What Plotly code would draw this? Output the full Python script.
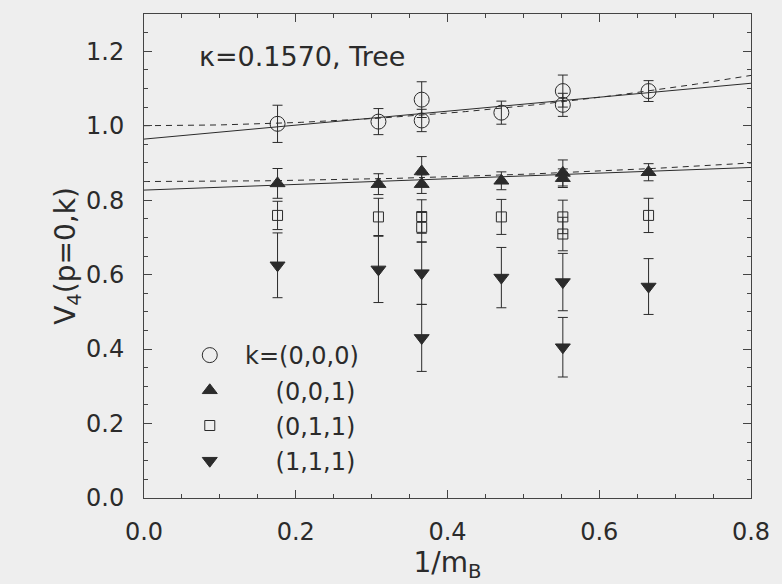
import numpy as np
import plotly.graph_objects as go

# ---- data ----
x_pts = [0.176, 0.309, 0.366, 0.366, 0.471, 0.552, 0.552, 0.665]

k000_y = [1.005, 1.011, 1.070, 1.014, 1.035, 1.093, 1.056, 1.093]
k000_err = [0.050, 0.035, 0.048, 0.030, 0.031, 0.043, 0.031, 0.028]

k001_y = [0.845, 0.843, 0.877, 0.843, 0.852, 0.873, 0.859, 0.875]
k001_err = [0.040, 0.028, 0.040, 0.025, 0.024, 0.035, 0.025, 0.023]

k011_y = [0.759, 0.755, 0.756, 0.727, 0.755, 0.755, 0.709, 0.759]
k011_err = [0.038, 0.050, 0.045, 0.040, 0.047, 0.045, 0.045, 0.046]

k111_y = [0.625, 0.614, 0.604, 0.430, 0.592, 0.580, 0.405, 0.568]
k111_err = [0.087, 0.089, 0.084, 0.090, 0.081, 0.077, 0.080, 0.075]

# fit coefficients: linear a + b x (solid), quadratic a + c x^2 (dashed)
lin_fit_000 = [0.964, 0.1875]
quad_fit_000 = [1.000, 0.211]
lin_fit_001 = [0.827, 0.076]
quad_fit_001 = [0.850, 0.078]

NB = "\u00a0"
legend_labels = [NB * 2 + "k=(0,0,0)", NB * 6 + "(0,0,1)", NB * 6 + "(0,1,1)", NB * 6 + "(1,1,1)"]

FONT = "DejaVu Sans"
INK = "#2b2b2b"
BG = "#eeeeee"

fig = go.Figure()

xf = np.linspace(0, 0.8, 101)
for lf, qf in [(lin_fit_000, quad_fit_000), (lin_fit_001, quad_fit_001)]:
    fig.add_trace(go.Scatter(x=xf, y=lf[0] + lf[1] * xf, mode="lines",
                             line=dict(color=INK, width=1), showlegend=False, hoverinfo="skip"))
    fig.add_trace(go.Scatter(x=xf, y=qf[0] + qf[1] * xf ** 2, mode="lines",
                             line=dict(color=INK, width=1, dash="6px,5px"), showlegend=False, hoverinfo="skip"))

series = [
    (k000_y, k000_err, "circle-open", 15, legend_labels[0]),
    (k001_y, k001_err, "triangle-up", 13, legend_labels[1]),
    (k011_y, k011_err, "square-open", 10, legend_labels[2]),
    (k111_y, k111_err, "triangle-down", 13, legend_labels[3]),
]
for i, (yv, ev, sym, sz, name) in enumerate(series):
    fig.add_trace(go.Scatter(
        x=x_pts, y=yv, mode="markers", name=name, legendgroup=str(i),
        marker=dict(symbol=sym, size=sz, color=INK, line=dict(color=INK, width=1)),
        error_y=dict(type="data", array=ev, visible=True, color=INK, thickness=1, width=5),
    ))

fig.add_annotation(text="\u03ba=0.1570, Tree", xref="paper", yref="paper",
                   x=(197 - 144) / 610, y=(498 - 57) / 484, xanchor="left", yanchor="middle",
                   showarrow=False, font=dict(family=FONT, size=27, color=INK))

axis_common = dict(showline=True, linecolor="#444444", linewidth=1, mirror="ticks",
                   ticks="inside", ticklen=8, tickwidth=1, tickcolor="#444444",
                   showgrid=False, zeroline=False, tickformat=".1f",
                   tickfont=dict(family=FONT, size=24, color=INK))

fig.update_xaxes(range=[0, 0.8], dtick=0.2, tick0=0,
                 minor=dict(dtick=0.05, ticklen=4, ticks="inside", tickcolor="#444444"),
                 title=dict(text="1/m<sub>B</sub>", font=dict(family=FONT, size=28, color=INK), standoff=2),
                 ticklabelstandoff=12, **axis_common)
fig.update_yaxes(range=[0, 1.3], dtick=0.2, tick0=0,
                 minor=dict(dtick=0.05, ticklen=4, ticks="inside", tickcolor="#444444"),
                 title=dict(text="V<sub>4</sub>(p=0,k)", font=dict(family=FONT, size=28, color=INK), standoff=0),
                 ticklabelstandoff=14, **axis_common)

fig.update_layout(
    width=782, height=584,
    margin=dict(l=144, r=28, t=14, b=86, pad=0),
    paper_bgcolor=BG, plot_bgcolor=BG,
    font=dict(family=FONT, color=INK),
    legend=dict(x=(190 - 144) / 610, y=(498 - 333) / 484, xanchor="left", yanchor="top",
                bgcolor="rgba(0,0,0,0)", font=dict(family=FONT, size=24, color=INK),
                tracegroupgap=1, traceorder="grouped", itemsizing="trace"),
    showlegend=True,
)

fig.write_html("out.html")
